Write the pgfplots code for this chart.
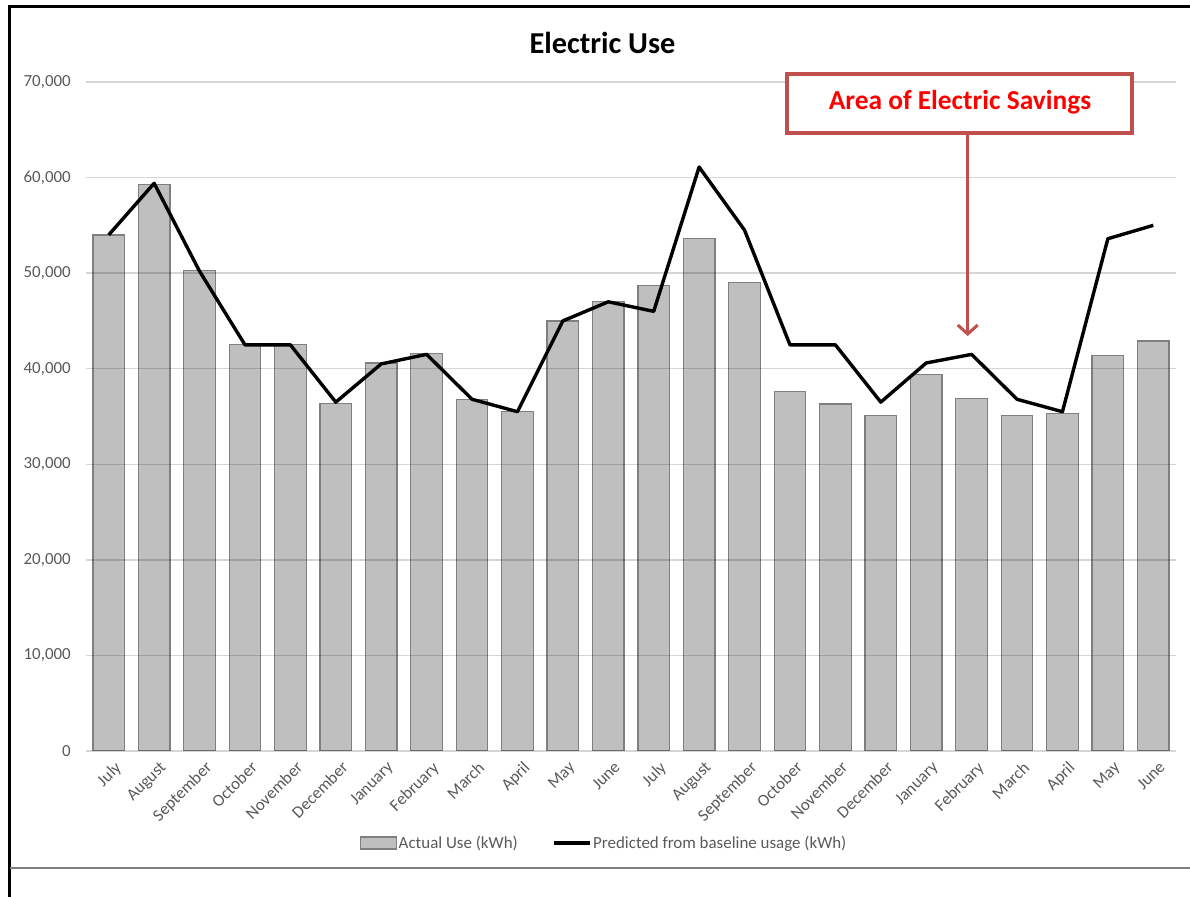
\documentclass[border=0pt]{standalone}
\usepackage{pgfplots}
\pgfplotsset{compat=1.18}
\usepackage{fontspec}
\setmainfont{Carlito}
\usetikzlibrary{arrows.meta}

\definecolor{tickgray}{HTML}{595959}
\definecolor{barfill}{HTML}{BFBFBF}
\definecolor{baredge}{HTML}{7F7F7F}
\definecolor{calloutred}{HTML}{C0504D}

\begin{document}
\begin{tikzpicture}[x=1bp,y=1bp]
\useasboundingbox (0,0) rectangle (1190,897);

\begin{axis}[
  at={(86bp,146bp)}, anchor=south west,
  scale only axis, width=1090bp, height=669bp,
  xmin=-0.5, xmax=23.5, ymin=0, ymax=70000,
  enlargelimits=false,
  xtick={0,...,23},
  xticklabels={July,August,September,October,November,December,January,February,March,April,May,June,
               July,August,September,October,November,December,January,February,March,April,May,June},
  ytick={0,10000,...,70000},
  scaled y ticks=false,
  /pgf/number format/fixed,
  /pgf/number format/1000 sep={,},
  /pgf/number format/assume math mode=true,
  tick label style={font=\fontsize{17}{20}\selectfont, text=tickgray},
  yticklabel style={anchor=east, inner sep=0pt, xshift=-15bp},
  xticklabel style={rotate=45, anchor=north east, inner sep=0pt, xshift=-3bp, yshift=-10bp},
  major tick length=0pt,
  axis line style={draw=none},
  ymajorgrids,
  grid style={black, opacity=0.16, line width=1.4bp},
  axis on top,
  legend columns=2,
  legend cell align=left,
  legend style={at={(0.4752,-0.1375)}, anchor=center, draw=none, fill=none,
    font=\fontsize{17}{20}\selectfont, text=tickgray,
    nodes={inner sep=1.5bp},
    /tikz/every even column/.append style={column sep=33bp}},
]

% Actual use (kWh)
\addplot[ybar, bar width=31.6bp, fill=barfill, draw=baredge, line width=1.2bp,
  legend image code/.code={\draw[fill=barfill, draw=baredge, line width=1.2bp] (0bp,-6bp) rectangle (36bp,6bp);}]
coordinates {
  (0,54000) (1,59300) (2,50300) (3,42500) (4,42500) (5,36400)
  (6,40600) (7,41600) (8,36800) (9,35500) (10,45000) (11,47000)
  (12,48700) (13,53600) (14,49000) (15,37600) (16,36300) (17,35100)
  (18,39400) (19,36900) (20,35100) (21,35300) (22,41400) (23,42900)
};
\addlegendentry{Actual Use (kWh)}

% Predicted from baseline usage (kWh)
\addplot[black, line width=3.4bp, line join=round, mark=none,
  legend image code/.code={\draw[black, line width=3.4bp] (0bp,0bp) -- (36bp,0bp);}]
coordinates {
  (0,54000) (1,59400) (2,50200) (3,42500) (4,42500) (5,36500)
  (6,40500) (7,41500) (8,36800) (9,35500) (10,45000) (11,47000)
  (12,46000) (13,61100) (14,54500) (15,42500) (16,42500) (17,36500)
  (18,40600) (19,41500) (20,36800) (21,35500) (22,53600) (23,55000)
};
\addlegendentry{Predicted from baseline usage (kWh)}
\end{axis}

% chart title
\node[font=\fontsize{30.5}{35}\selectfont\bfseries, text=black] at (602.5,854) {Electric Use};

% callout box and arrow
\draw[calloutred, line width=4bp, fill=white] (787,823.3) rectangle (1132,764);
\node[font=\fontsize{27.5}{31}\selectfont\bfseries, text=red] at (960,794.5) {Area of Electric Savings};
\draw[calloutred, line width=3bp, -{Straight Barb[length=9bp, width=20bp]}] (967.7,762) -- (967.7,561);

% slide frame
\draw[black, line width=3bp] (9.5,0) -- (9.5,890) -- (1190,890);
\draw[baredge, line width=2bp] (9.5,29) -- (1190,29);
\end{tikzpicture}
\end{document}
